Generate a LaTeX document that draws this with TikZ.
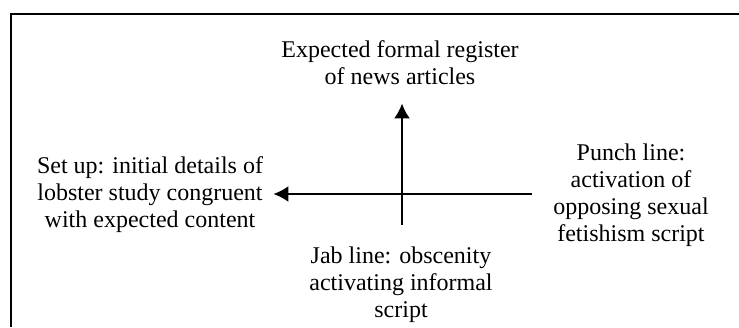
\documentclass[tikz,border=0pt]{standalone}
\usepackage{fontspec}
\setmainfont{Liberation Serif}
\usetikzlibrary{positioning, arrows.meta}

\begin{document}
\begin{tikzpicture}[x=0.5pt, y=-0.5pt, font=\fontsize{12}{13.5}\selectfont,
  txt/.style={align=center, inner sep=2pt},
  axis/.style={line width=1pt, -{Latex[length=7.5pt, width=8pt]}}]

%\draw[help lines, step=50] (0,0) grid (739,327);
\useasboundingbox (0,0) rectangle (739,327);

%%% frame (cut off at right and bottom)
\draw [line width=1pt] (11,327) -- (11,14) -- (739,14);

%%% nodes
\node [txt] (register-txt) at (400,63) {Expected formal register\\ of news articles};
\node [txt] (setup-txt) at (150,195) {Set up: initial details of\\ lobster study congruent\\ with expected content};
\node [txt] (punch-txt) at (631,195) {Punch line:\\ activation of\\ opposing sexual\\ fetishism script};
\node [txt] (jab-txt) at (401,285) {Jab line: obscenity\\ activating informal\\ script};

%%% free ends of the axes
\coordinate (v-end) at (402,225);
\coordinate (h-end) at (532,194);

%%% axes
\draw [axis, shorten >=7pt] (v-end) -- (v-end |- register-txt.south);
\draw [axis, shorten >=3pt] (h-end) -- (h-end -| setup-txt.east);

\end{tikzpicture}
\end{document}
